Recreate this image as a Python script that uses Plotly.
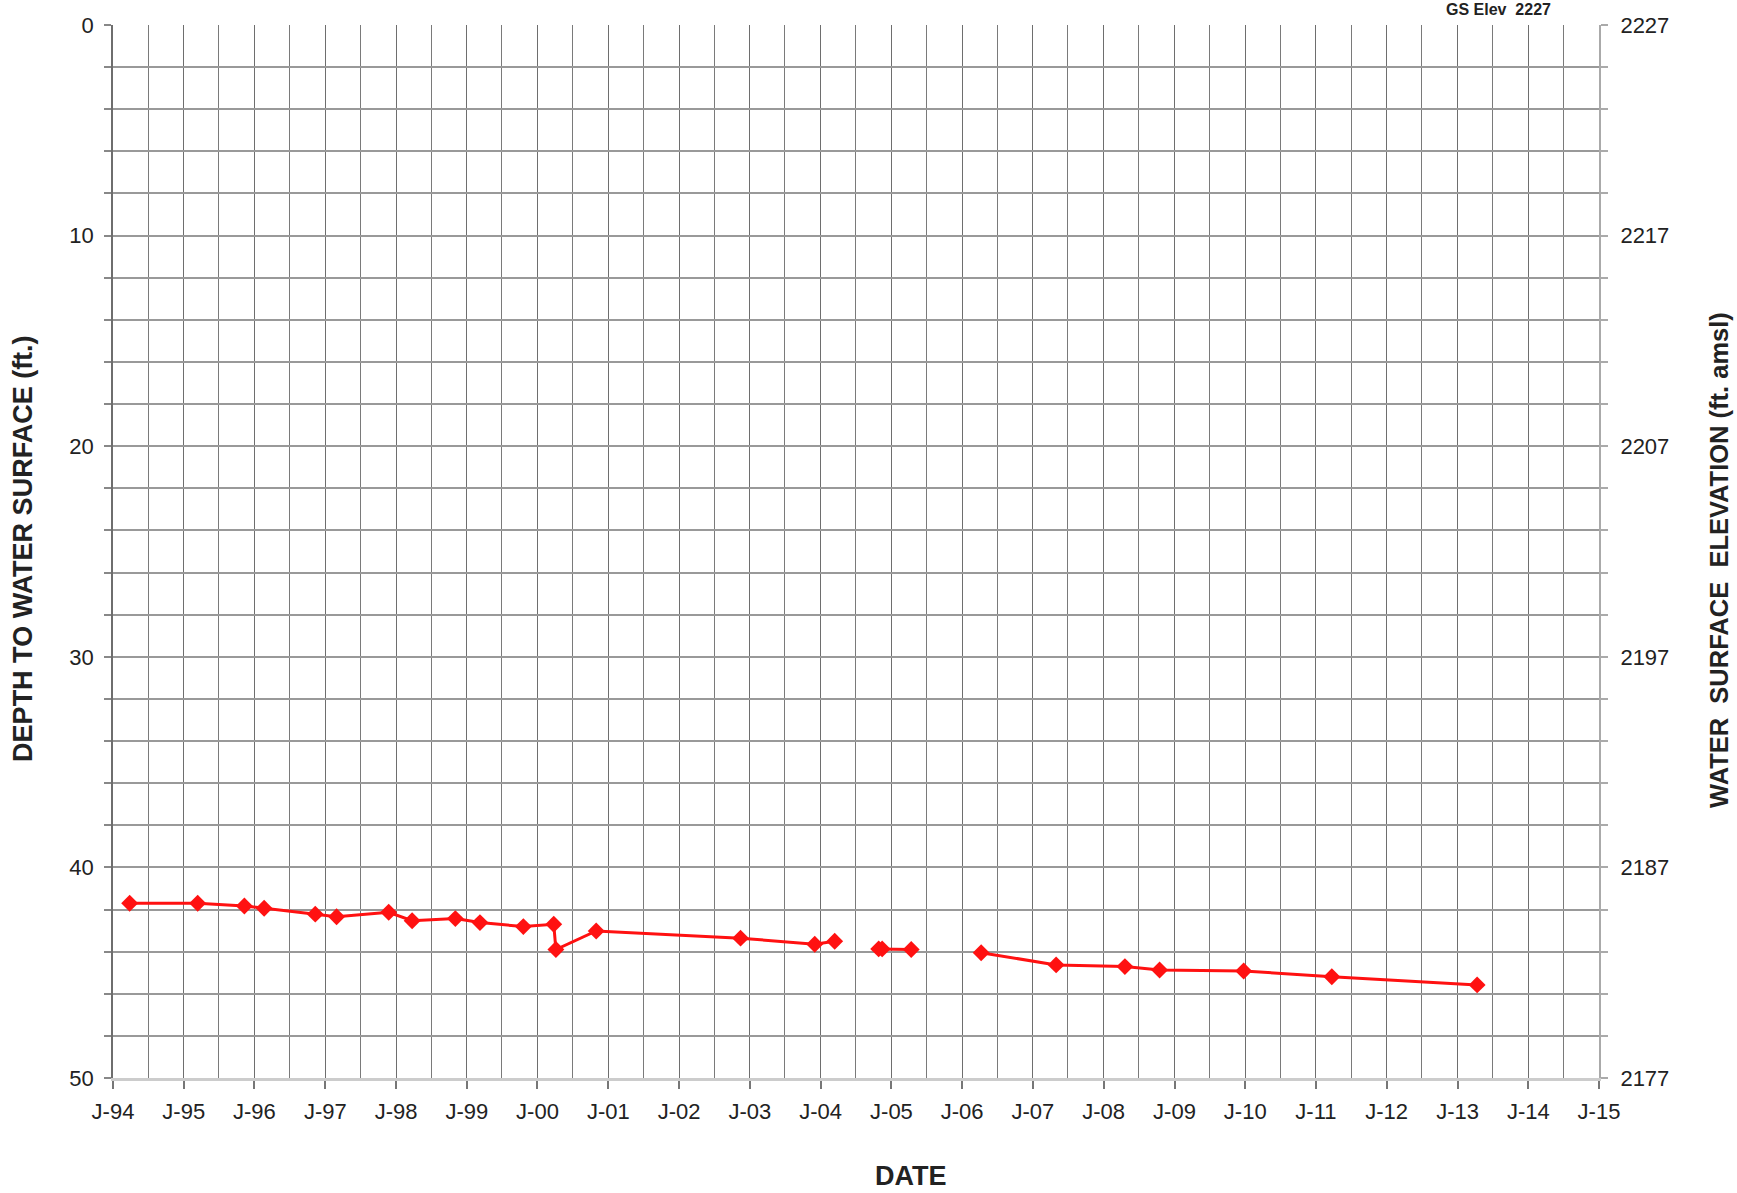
import plotly.graph_objects as go

# Well hydrograph: depth to water (left) and water surface elevation (right)
GS_ELEV = 2227

dates = [
    "1994-03-28", "1995-03-14", "1995-11-10", "1996-02-20", "1996-11-10",
    "1997-02-28", "1997-11-24", "1998-03-25", "1998-11-03", "1999-03-10",
    "1999-10-20", "2000-03-25", "2000-04-05", "2000-10-30", "2002-11-14",
    "2003-12-02", "2004-03-14", "2004-10-27", "2004-11-14", "2005-04-13",
    "2006-04-09", "2007-05-01", "2008-04-20", "2008-10-16", "2009-12-24",
    "2011-03-24", "2013-04-12",
]
depth_ft = [
    41.70, 41.70, 41.83, 41.94, 42.22,
    42.34, 42.13, 42.53, 42.43, 42.62,
    42.81, 42.70, 43.90, 43.02, 43.36,
    43.65, 43.51, 43.87, 43.87, 43.90,
    44.05, 44.63, 44.71, 44.87, 44.92,
    45.19, 45.58,
]
# the line is not drawn across these gaps in the record
break_after = ["2004-03-14", "2005-04-13"]

year_ticks = [f"{y}-01-01" for y in range(1994, 2016)]
year_labels = [f"J-{y % 100:02d}" for y in range(1994, 2016)]

depth_ticks = list(range(0, 51, 2))
depth_labels = [str(d) if d % 10 == 0 else "" for d in depth_ticks]
elev_ticks = [GS_ELEV - d for d in depth_ticks]
elev_labels = [str(GS_ELEV - d) if d % 10 == 0 else "" for d in depth_ticks]

# insert gaps so the line breaks where the record is interrupted
line_x, line_y = [], []
for d, v in zip(dates, depth_ft):
    line_x.append(d)
    line_y.append(v)
    if d in break_after:
        line_x.append(None)
        line_y.append(None)

FONT = "Liberation Sans, Arial, sans-serif"
RED = "#ff1111"
TEXT = "#222222"

fig = go.Figure()
fig.add_trace(go.Scatter(
    x=line_x, y=line_y, mode="lines+markers",
    line=dict(color=RED, width=3),
    marker=dict(symbol="diamond", size=13, color=RED),
    connectgaps=False, showlegend=False, hoverinfo="x+y",
))
# invisible trace to activate the elevation axis
fig.add_trace(go.Scatter(
    x=[dates[0]], y=[GS_ELEV - depth_ft[0]], yaxis="y2",
    mode="markers", marker=dict(opacity=0), showlegend=False, hoverinfo="skip",
))

fig.update_layout(
    width=1737, height=1193,
    margin=dict(l=113, r=138, t=25, b=115),
    paper_bgcolor="white", plot_bgcolor="white",
    font=dict(family=FONT, size=22, color=TEXT),
    xaxis=dict(
        type="date", range=["1994-01-01", "2015-01-01"],
        tickmode="array", tickvals=year_ticks, ticktext=year_labels,
        ticks="outside", ticklen=8, tickcolor="#777777", tickwidth=1.5,
        showgrid=True, gridcolor="#6e6e6e", gridwidth=1.3,
        minor=dict(dtick="M6", tick0="1994-01-01", showgrid=True,
                   gridcolor="#7a7a7a", gridwidth=1.3, ticks=""),
        showline=True, linecolor="#cccccc", linewidth=3,
        zeroline=False, ticklabelstandoff=4,
        tickfont=dict(family=FONT, size=22),
    ),
    yaxis=dict(
        range=[50, 0], tickmode="array",
        tickvals=depth_ticks, ticktext=depth_labels,
        ticks="outside", ticklen=7, tickcolor="#888888", tickwidth=1.5,
        showgrid=True, gridcolor="#999999", gridwidth=1.5,
        showline=True, linecolor="#6e6e6e", linewidth=1.5,
        zeroline=False, ticklabelstandoff=6,
        tickfont=dict(family=FONT, size=22),
    ),
    yaxis2=dict(
        overlaying="y", side="right",
        range=[GS_ELEV - 50, GS_ELEV], tickmode="array",
        tickvals=elev_ticks, ticktext=elev_labels,
        ticks="outside", ticklen=7, tickcolor="#aaaaaa", tickwidth=1.5,
        showgrid=False, showline=True, linecolor="#aaaaaa", linewidth=2,
        zeroline=False, ticklabelstandoff=8,
        tickfont=dict(family=FONT, size=22),
    ),
    annotations=[
        dict(text="<b>DEPTH TO WATER SURFACE (ft.)</b>", xref="paper", yref="paper",
             x=-0.0602, y=0.503, textangle=-90, showarrow=False,
             font=dict(family=FONT, size=27, color=TEXT),
             xanchor="center", yanchor="middle"),
        dict(text="<b>WATER\u00a0\u00a0SURFACE\u00a0\u00a0ELEVATION (ft. amsl)</b>",
             xref="paper", yref="paper", x=1.0808, y=0.492, textangle=-90,
             showarrow=False, font=dict(family=FONT, size=25.5, color=TEXT),
             xanchor="center", yanchor="middle"),
        dict(text="<b>DATE</b>", xref="paper", yref="paper", x=0.537, y=-0.0935,
             showarrow=False, font=dict(family=FONT, size=27, color=TEXT),
             xanchor="center", yanchor="middle"),
        dict(text=f"<b>GS Elev\u00a0\u00a0{GS_ELEV}</b>", xref="paper", yref="paper",
             x=0.9327, y=1.0 + 25 / 1053, showarrow=False, borderpad=0,
             font=dict(family=FONT, size=16, color=TEXT),
             xanchor="center", yanchor="top"),
    ],
)

fig.write_html("out.html")
